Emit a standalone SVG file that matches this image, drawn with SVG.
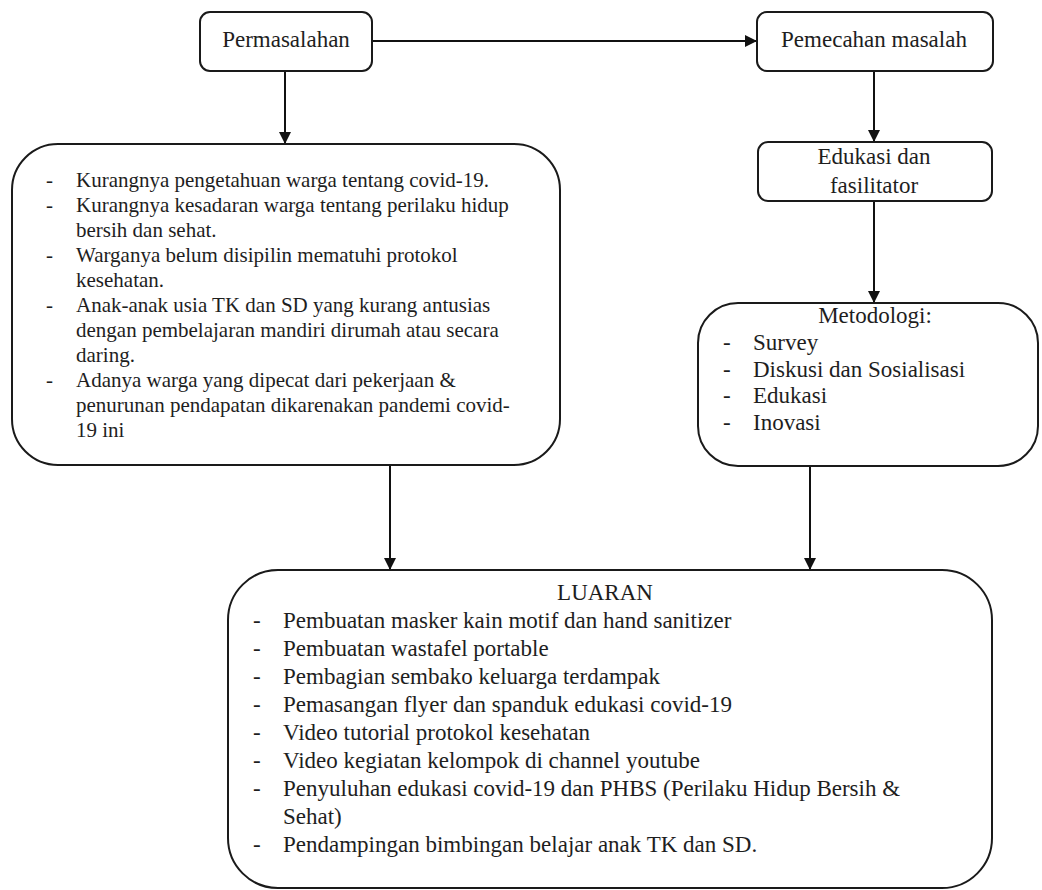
<svg xmlns="http://www.w3.org/2000/svg" width="1042" height="890" viewBox="0 0 1042 890">
<defs>
<marker id="ah" viewBox="0 0 12 12" refX="12" refY="6" markerWidth="12" markerHeight="12" markerUnits="userSpaceOnUse" orient="auto">
<path d="M0,0 L12,6 L0,12 Z" fill="#111"/>
</marker>
<style>
.box{fill:#fff;stroke:#1a1a1a;stroke-width:2}
.t{font-family:"Liberation Serif","Times New Roman",serif;fill:#1e1e1e}
.c{text-anchor:middle}
.f23{font-size:23px}
.f21{font-size:21px}
.ln{stroke:#111;stroke-width:2;fill:none;marker-end:url(#ah)}
</style>
</defs>
<rect width="1042" height="890" fill="#fff"/>
<g id="connectors">
<line class="ln" x1="372" y1="41" x2="757" y2="41"/>
<line class="ln" x1="285" y1="71" x2="285" y2="144"/>
<line class="ln" x1="874" y1="71" x2="874" y2="142"/>
<line class="ln" x1="874" y1="201" x2="874" y2="303"/>
<line class="ln" x1="390" y1="465" x2="390" y2="570"/>
<line class="ln" x1="810" y1="466" x2="810" y2="570"/>
</g>
<g id="permasalahan">
<rect class="box" x="200" y="12" width="172" height="59" rx="10"/>
<text class="t c f23" x="286" y="47">Permasalahan</text>
</g>
<g id="pemecahan">
<rect class="box" x="757" y="12" width="236" height="59" rx="10"/>
<text class="t c f23" x="874" y="47">Pemecahan masalah</text>
</g>
<g id="masalah-list">
<rect class="box" x="12" y="144" width="548" height="321" rx="46"/>
<g class="t f21">
<text x="46" y="187">-</text><text x="76" y="187">Kurangnya pengetahuan warga tentang covid-19.</text>
<text x="46" y="212">-</text><text x="76" y="212">Kurangnya kesadaran warga tentang perilaku hidup</text>
<text x="76" y="237">bersih dan sehat.</text>
<text x="46" y="262">-</text><text x="76" y="262">Warganya belum disipilin mematuhi protokol</text>
<text x="76" y="287">kesehatan.</text>
<text x="46" y="312">-</text><text x="76" y="312">Anak-anak usia TK dan SD yang kurang antusias</text>
<text x="76" y="337">dengan pembelajaran mandiri dirumah atau secara</text>
<text x="76" y="362">daring.</text>
<text x="46" y="387">-</text><text x="76" y="387">Adanya warga yang dipecat dari pekerjaan &amp;</text>
<text x="76" y="412">penurunan pendapatan dikarenakan pandemi covid-</text>
<text x="76" y="437">19 ini</text>
</g>
</g>
<g id="edukasi">
<rect class="box" x="758" y="142" width="234" height="59" rx="10"/>
<text class="t c f23" x="874" y="164">Edukasi dan</text>
<text class="t c f23" x="874" y="193">fasilitator</text>
</g>
<g id="metodologi">
<rect class="box" x="698" y="303" width="340" height="163" rx="40"/>
<g class="t f23">
<text class="c" x="875" y="323">Metodologi:</text>
<text x="723" y="350">-</text><text x="753" y="350">Survey</text>
<text x="723" y="377">-</text><text x="753" y="377">Diskusi dan Sosialisasi</text>
<text x="723" y="403">-</text><text x="753" y="403">Edukasi</text>
<text x="723" y="430">-</text><text x="753" y="430">Inovasi</text>
</g>
</g>
<g id="luaran">
<rect class="box" x="228" y="570" width="764" height="318" rx="50"/>
<g class="t f23">
<text class="c" x="605" y="600">LUARAN</text>
<text x="253" y="628">-</text><text x="283" y="628">Pembuatan masker kain motif dan hand sanitizer</text>
<text x="253" y="656">-</text><text x="283" y="656">Pembuatan wastafel portable</text>
<text x="253" y="684">-</text><text x="283" y="684">Pembagian sembako keluarga terdampak</text>
<text x="253" y="712">-</text><text x="283" y="712">Pemasangan flyer dan spanduk edukasi covid-19</text>
<text x="253" y="740">-</text><text x="283" y="740">Video tutorial protokol kesehatan</text>
<text x="253" y="768">-</text><text x="283" y="768">Video kegiatan kelompok di channel youtube</text>
<text x="253" y="796">-</text><text x="283" y="796">Penyuluhan edukasi covid-19 dan PHBS (Perilaku Hidup Bersih &amp;</text>
<text x="283" y="824">Sehat)</text>
<text x="253" y="852">-</text><text x="283" y="852">Pendampingan bimbingan belajar anak TK dan SD.</text>
</g>
</g>
</svg>
